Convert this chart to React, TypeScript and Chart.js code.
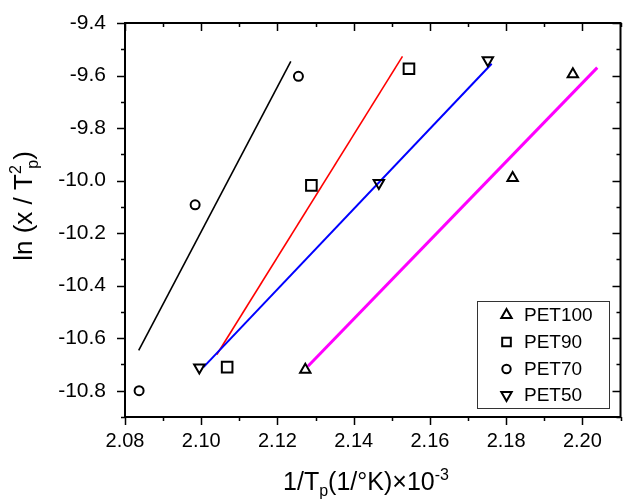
import React, { useEffect, useRef } from "react";
import { Chart, registerables } from "chart.js";

Chart.register(...registerables);

// ---- data ----
const seriesNames = ["PET100", "PET90", "PET70", "PET50"];

const pet100X = [2.1273, 2.1817, 2.1975];
const pet100Y = [-10.72, -9.99, -9.595];
const pet90X = [2.1068, 2.1289, 2.1545];
const pet90Y = [-10.71, -10.018, -9.574];
const pet70X = [2.0837, 2.0984, 2.1255];
const pet70Y = [-10.8, -10.092, -9.603];
const pet50X = [2.0995, 2.1466, 2.1752];
const pet50Y = [-10.712, -10.009, -9.542];

// linear fit lines (end points)
const fit70X = [2.0836, 2.1235];
const fit70Y = [-10.646, -9.546];
const fit90X = [2.1041, 2.1528];
const fit90Y = [-10.662, -9.527];
const fit50X = [2.1006, 2.1762];
const fit50Y = [-10.71, -9.555];
const fit100X = [2.128, 2.2039];
const fit100Y = [-10.707, -9.57];

const xTicks = [2.08, 2.1, 2.12, 2.14, 2.16, 2.18, 2.2];
const yTicks = [-10.8, -10.6, -10.4, -10.2, -10.0, -9.8, -9.6, -9.4];
const xMin = 2.08, xMax = 2.21, yMin = -10.9, yMax = -9.4;

const FONT = "'Liberation Sans', Arial, sans-serif";

const zip = (xs: number[], ys: number[]) => xs.map((x, i) => ({ x, y: ys[i] }));

function drawMarker(ctx: CanvasRenderingContext2D, style: string, cx: number, cy: number, r: number) {
  ctx.beginPath();
  if (style === "up") {
    ctx.moveTo(cx, cy - r);
    ctx.lineTo(cx + r * 0.866, cy + r * 0.5);
    ctx.lineTo(cx - r * 0.866, cy + r * 0.5);
    ctx.closePath();
  } else if (style === "down") {
    ctx.moveTo(cx, cy + r);
    ctx.lineTo(cx + r * 0.866, cy - r * 0.5);
    ctx.lineTo(cx - r * 0.866, cy - r * 0.5);
    ctx.closePath();
  } else if (style === "rect") {
    const s = r * 0.72;
    ctx.rect(cx - s, cy - s, 2 * s, 2 * s);
  } else {
    ctx.arc(cx, cy, r * 0.7, 0, Math.PI * 2);
  }
  ctx.stroke();
}

const framePlugin = {
  id: "framePlugin",
  afterDatasetsDraw(chart: any) {
    const { ctx, chartArea: a, scales } = chart;
    const xs = scales.x, ys = scales.y;
    ctx.save();
    ctx.strokeStyle = "#000";
    ctx.lineWidth = 2;
    ctx.strokeRect(a.left, a.top, a.right - a.left, a.bottom - a.top);
    ctx.lineWidth = 1.5;
    // x ticks
    for (let i = 208; i <= 221; i++) {
      const v = i / 100;
      const px = Math.round(xs.getPixelForValue(v)) + 0.5;
      const major = i % 2 === 0;
      const len = major ? 8 : 4;
      ctx.beginPath();
      ctx.moveTo(px, a.bottom);
      ctx.lineTo(px, a.bottom + len);
      ctx.moveTo(px, a.top);
      ctx.lineTo(px, a.top + len);
      ctx.stroke();
    }
    // y ticks
    for (let i = -109; i <= -94; i++) {
      const v = i / 10;
      const py = Math.round(ys.getPixelForValue(v)) + 0.5;
      const major = Math.abs(i) % 2 === 0;
      const len = major ? 8 : 4;
      ctx.beginPath();
      ctx.moveTo(a.left, py);
      ctx.lineTo(a.left - len, py);
      ctx.moveTo(a.right, py);
      ctx.lineTo(a.right - len, py);
      ctx.stroke();
    }

    // legend
    const styles = ["up", "rect", "circle", "down"];
    ctx.lineWidth = 1;
    ctx.strokeStyle = "#333";
    ctx.strokeRect(477.5, 301.5, 132, 107);
    ctx.font = `19px ${FONT}`;
    ctx.textBaseline = "middle";
    ctx.textAlign = "left";
    ctx.fillStyle = "#000";
    const rows = [315, 342, 369, 395];
    seriesNames.forEach((name, i) => {
      ctx.strokeStyle = "#000";
      ctx.lineWidth = 2;
      drawMarker(ctx, styles[i], 506.5, rows[i], 6);
      ctx.fillText(name, 524, rows[i] + 1);
    });

    // x title
    const cx = 366;
    const base = 490;
    const big = `25px ${FONT}`;
    const small = `16px ${FONT}`;
    const parts: [string, string, number][] = [
      ["1/T", big, 0],
      ["p", small, 6],
      ["(1/°K)×10", big, 0],
      ["-3", small, -10],
    ];
    let total = 0;
    parts.forEach(([t, f]) => { ctx.font = f; total += ctx.measureText(t).width; });
    let x = cx - total / 2;
    ctx.textBaseline = "alphabetic";
    parts.forEach(([t, f, dy]) => {
      ctx.font = f;
      ctx.fillText(t, x, base + dy);
      x += ctx.measureText(t).width;
    });

    // y title (rotated)
    ctx.save();
    ctx.translate(32, 206);
    ctx.rotate(-Math.PI / 2);
    const ybig = `26px ${FONT}`;
    const ysmall = `16px ${FONT}`;
    ctx.font = ybig;
    const w1 = ctx.measureText("ln (x / T").width;
    ctx.font = ysmall;
    const w2 = ctx.measureText("2").width;
    const w3 = ctx.measureText("p").width;
    ctx.font = ybig;
    const w4 = ctx.measureText(")").width;
    const tot = w1 + w2 + w3 * 0.6 + w4;
    let yx = -tot / 2;
    ctx.font = ybig;
    ctx.fillText("ln (x / T", yx, 0);
    yx += w1;
    ctx.font = ysmall;
    ctx.fillText("2", yx, -11);
    ctx.fillText("p", yx + w2 * 0.6, 6);
    yx += w2 + w3 * 0.6;
    ctx.font = ybig;
    ctx.fillText(")", yx, 0);
    ctx.restore();

    ctx.restore();
  },
};

export default function App() {
  const ref = useRef<HTMLCanvasElement | null>(null);
  useEffect(() => {
    if (!ref.current) return;
    const mk = (label: string, xs: number[], ys: number[], style: any, rot: number, r: number) => ({
      type: "scatter" as const,
      label,
      data: zip(xs, ys),
      pointStyle: style,
      rotation: rot,
      pointRadius: r,
      pointBorderWidth: 2,
      pointBorderColor: "#000",
      pointBackgroundColor: "rgba(0,0,0,0)",
      showLine: false,
      order: 0,
    });
    const fit = (xs: number[], ys: number[], color: string, w: number, order: number) => ({
      type: "line" as const,
      label: "fit",
      data: zip(xs, ys),
      borderColor: color,
      borderWidth: w,
      pointRadius: 0,
      fill: false,
      tension: 0,
      order,
    });
    const chart = new Chart(ref.current, {
      type: "scatter",
      data: {
        datasets: [
          fit(fit70X, fit70Y, "#000000", 1.6, 4),
          fit(fit90X, fit90Y, "#ff0000", 1.6, 3),
          fit(fit50X, fit50Y, "#0000ff", 2, 2),
          fit(fit100X, fit100Y, "#ff00ff", 3, 1),
          mk(seriesNames[0], pet100X, pet100Y, "triangle", 0, 6),
          mk(seriesNames[1], pet90X, pet90Y, "rect", 0, 7.5),
          mk(seriesNames[2], pet70X, pet70Y, "circle", 0, 4.5),
          mk(seriesNames[3], pet50X, pet50Y, "triangle", 180, 6),
        ] as any,
      },
      options: {
        animation: false,
        responsive: false,
        devicePixelRatio: 1,
        layout: { padding: { top: 23, right: 2, left: 0, bottom: 0 } },
        plugins: { legend: { display: false }, tooltip: { enabled: false } },
        scales: {
          x: {
            type: "linear",
            min: xMin,
            max: xMax,
            grid: { display: false, drawTicks: false },
            border: { display: false },
            afterBuildTicks: (s: any) => { s.ticks = xTicks.map((v) => ({ value: v })); },
            afterFit: (s: any) => { s.height = 84; s.paddingLeft = 0; s.paddingRight = 0; },
            ticks: {
              color: "#000",
              padding: 12,
              font: { family: FONT, size: 20 },
              callback: (v: any) => Number(v).toFixed(2),
              maxRotation: 0,
              autoSkip: false,
            },
          },
          y: {
            type: "linear",
            min: yMin,
            max: yMax,
            grid: { display: false, drawTicks: false },
            border: { display: false },
            afterBuildTicks: (s: any) => { s.ticks = yTicks.map((v) => ({ value: v })); },
            afterFit: (s: any) => { s.width = 125; s.paddingTop = 0; s.paddingBottom = 0; },
            ticks: {
              color: "#000",
              padding: 19,
              font: { family: FONT, size: 21 },
              callback: (v: any) => Number(v).toFixed(1),
              autoSkip: false,
            },
          },
        },
      },
      plugins: [framePlugin],
    } as any);
    return () => chart.destroy();
  }, []);
  return (
    <div style={{ position: "absolute", left: 0, top: 0, width: 630, height: 501, background: "#fff" }}>
      <canvas ref={ref} width={630} height={501} />
    </div>
  );
}
